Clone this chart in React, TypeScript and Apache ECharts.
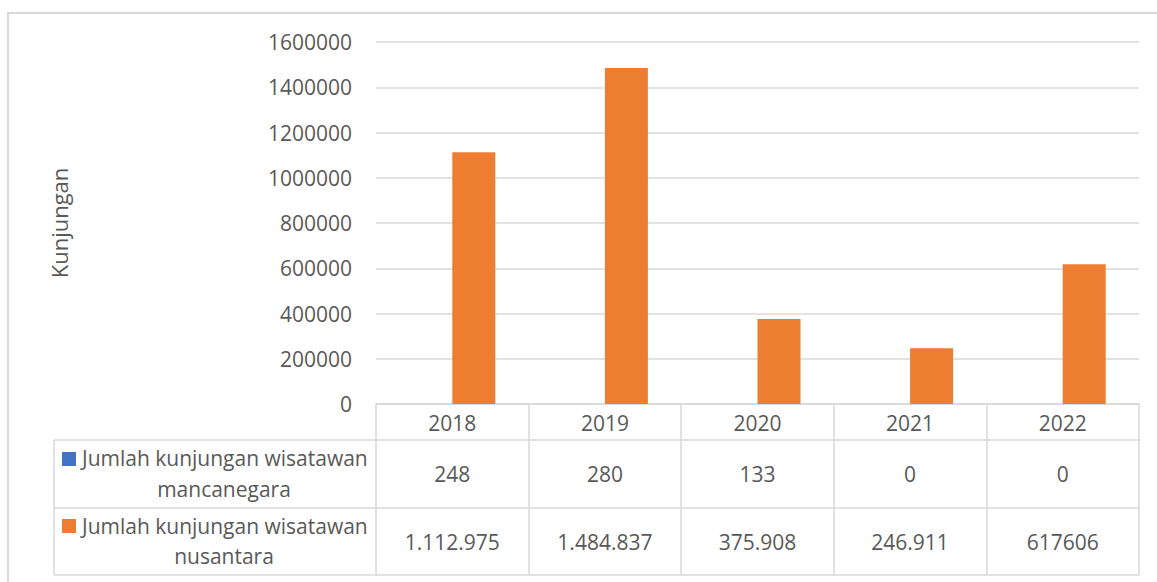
import React, { useEffect, useRef } from "react";
import * as echarts from "echarts";

const years = ["2018", "2019", "2020", "2021", "2022"];
const mancanegara = [248, 280, 133, 0, 0];
const nusantara = [1112975, 1484837, 375908, 246911, 617606];
const mancanegaraTable = ["248", "280", "133", "0", "0"];
const nusantaraTable = ["1.112.975", "1.484.837", "375.908", "246.911", "617606"];
const seriesNames = [
  "Jumlah kunjungan wisatawan mancanegara",
  "Jumlah kunjungan wisatawan nusantara",
];
const yAxisName = "Kunjungan";

const TXT = "#595959";
const LINE = "#d9d9d9";
const FONT = "'Open Sans', 'Noto Sans', sans-serif";
const FS = 21;
const BLUE = "#4472C4";
const ORANGE = "#ED7D31";

export default function App() {
  const ref = useRef<HTMLDivElement>(null);
  useEffect(() => {
    if (!ref.current) return;
    const chart = echarts.init(ref.current, null, { renderer: "svg" });
    const lineStyle = { color: LINE, width: 1.5 };
    const tableLabel = (margin: number) => ({
      show: true,
      interval: 0,
      color: TXT,
      fontSize: FS,
      fontFamily: FONT,
      margin,
    });
    const txt = (text: string, x: number, y: number, align: string) => ({
      type: "text",
      x,
      y,
      style: { text, fill: TXT, fontSize: FS, fontFamily: FONT, align, verticalAlign: "middle" },
    });
    const hline = (y: number) => ({
      type: "line",
      shape: { x1: 54, y1: y, x2: 377, y2: y },
      style: { stroke: LINE, lineWidth: 1.5 },
    });
    chart.setOption({
      animation: false,
      backgroundColor: "#ffffff",
      textStyle: { fontFamily: FONT },
      grid: { left: 376, right: 18, top: 42, bottom: 178, containLabel: false },
      xAxis: [
        {
          type: "category",
          data: years,
          position: "bottom",
          axisLine: { show: true, lineStyle },
          axisTick: { show: true, length: 36, interval: 0, lineStyle },
          axisLabel: tableLabel(8),
        },
        {
          type: "category",
          data: mancanegaraTable,
          position: "bottom",
          offset: 36,
          axisLine: { show: true, lineStyle },
          axisTick: { show: true, length: 68, interval: 0, lineStyle },
          axisLabel: tableLabel(23),
        },
        {
          type: "category",
          data: nusantaraTable,
          position: "bottom",
          offset: 104,
          axisLine: { show: true, lineStyle },
          axisTick: { show: true, length: 67, interval: 0, lineStyle },
          axisLabel: tableLabel(23),
        },
        {
          type: "category",
          data: years,
          position: "bottom",
          offset: 171,
          axisLine: { show: true, lineStyle },
          axisTick: { show: false },
          axisLabel: { show: false },
        },
      ],
      yAxis: {
        type: "value",
        min: 0,
        max: 1600000,
        interval: 200000,
        name: yAxisName,
        nameLocation: "middle",
        nameRotate: 90,
        nameGap: 306,
        nameTextStyle: { color: TXT, fontSize: 22, fontFamily: FONT },
        axisLine: { show: false },
        axisTick: { show: false },
        axisLabel: {
          color: TXT,
          fontSize: FS,
          fontFamily: FONT,
          margin: 24,
          formatter: (v: number) => String(v),
        },
        splitLine: { show: true, lineStyle },
      },
      series: [
        {
          name: seriesNames[0],
          type: "bar",
          data: mancanegara,
          barWidth: 43,
          barGap: "0%",
          itemStyle: { color: BLUE },
        },
        {
          name: seriesNames[1],
          type: "bar",
          data: nusantara,
          barWidth: 43,
          barGap: "0%",
          itemStyle: { color: ORANGE },
        },
      ],
      graphic: [
        {
          type: "rect",
          shape: { x: 8, y: 13, width: 1400, height: 800 },
          style: { fill: "none", stroke: LINE, lineWidth: 2 },
          silent: true,
        },
        hline(440),
        hline(508),
        hline(575),
        { type: "line", shape: { x1: 54, y1: 440, x2: 54, y2: 575 }, style: { stroke: LINE, lineWidth: 1.5 } },
        { type: "rect", shape: { x: 62, y: 452, width: 14, height: 14 }, style: { fill: BLUE } },
        { type: "rect", shape: { x: 62, y: 519, width: 14, height: 14 }, style: { fill: ORANGE } },
        txt("Jumlah kunjungan wisatawan", 82, 458, "left"),
        txt("mancanegara", 224, 489, "center"),
        txt("Jumlah kunjungan wisatawan", 82, 526, "left"),
        txt("nusantara", 224, 556, "center"),
      ],
    });
    return () => chart.dispose();
  }, []);
  return (
    <div
      ref={ref}
      style={{ position: "fixed", left: 0, top: 0, width: 1157, height: 582 }}
    />
  );
}
